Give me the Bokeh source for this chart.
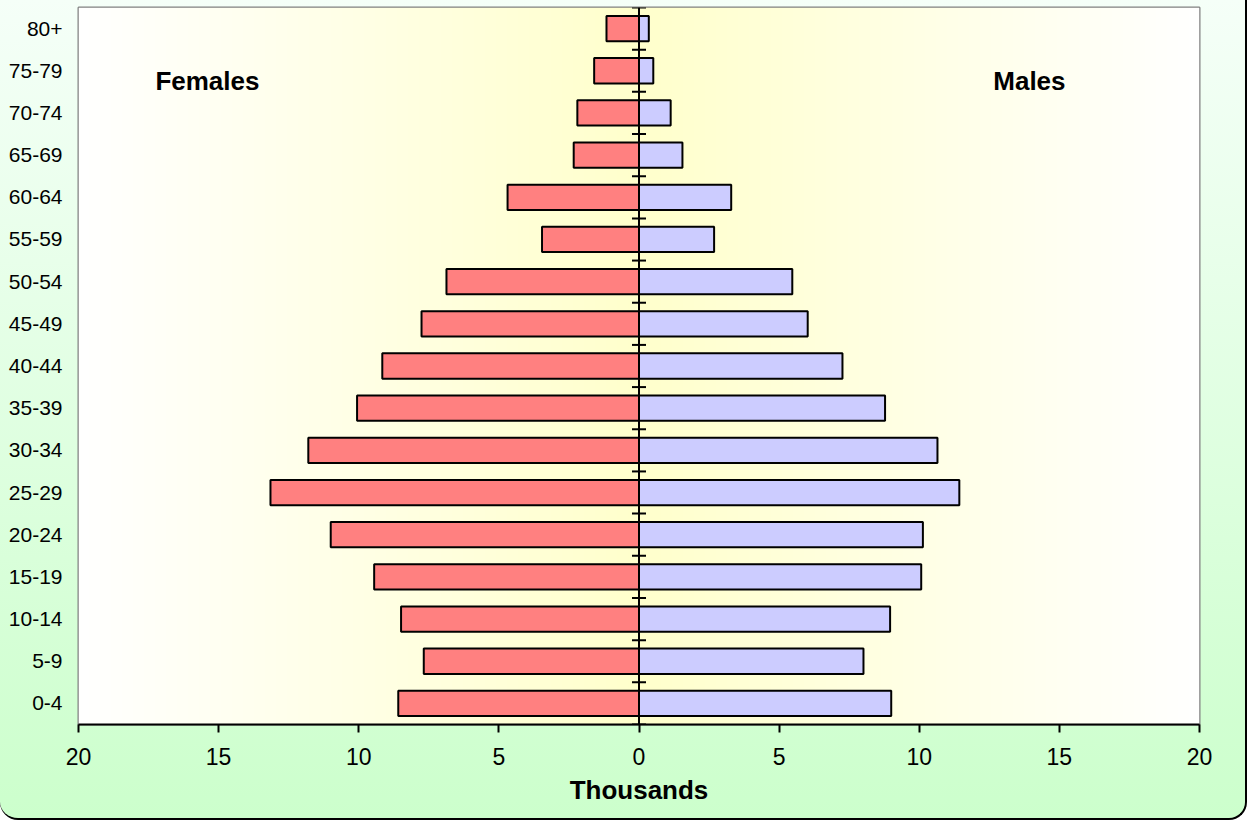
import numpy as np
from bokeh.plotting import figure
from bokeh.models import Range1d, FixedTicker, Span, Label, ColumnDataSource
from bokeh.embed import file_html
from bokeh.resources import INLINE

# ---- data (thousands) ----
age_groups = ["0-4", "5-9", "10-14", "15-19", "20-24", "25-29", "30-34", "35-39",
              "40-44", "45-49", "50-54", "55-59", "60-64", "65-69", "70-74", "75-79", "80+"]
females = [8.59, 7.68, 8.49, 9.45, 11.0, 13.15, 11.80, 10.06, 9.16, 7.76, 6.87,
           3.46, 4.69, 2.33, 2.2, 1.6, 1.16]
males = [9.0, 8.01, 8.96, 10.07, 10.13, 11.43, 10.65, 8.78, 7.26, 6.02, 5.47,
         2.68, 3.29, 1.55, 1.13, 0.51, 0.35]
x_ticks = [-20, -15, -10, -5, 0, 5, 10, 15, 20]

FONT = "Liberation Sans"
n = len(age_groups)
ypos = list(range(n))

p = figure(width=1247, height=820, output_backend="svg", toolbar_location=None,
           x_range=Range1d(-20, 20), y_range=Range1d(-0.5, n - 0.5),
           min_border_left=78, min_border_right=48, min_border_top=7,
           min_border_bottom=96)
p.border_fill_color = None
p.background_fill_color = None
p.outline_line_color = "#808080"
p.outline_line_width = 2
p.grid.visible = False
p.styles = {
    "background": "linear-gradient(to bottom, #F5FFF8 0%, #CCFFCC 100%)",
    "border-right": "2px solid black",
    "border-bottom": "2px solid black",
    "border-bottom-right-radius": "18px",
    "border-bottom-left-radius": "18px",
}

# plot-area horizontal gradient: white at edges, pale yellow in centre
N = 1121
t = 1 - np.abs(np.linspace(-1, 1, N))
img = np.zeros((1, N), dtype=np.uint32)
view = img.view(dtype=np.uint8).reshape((1, N, 4))
view[0, :, 0] = 255
view[0, :, 1] = 255
view[0, :, 2] = (255 - 51 * t).astype(np.uint8)
view[0, :, 3] = 255
p.image_rgba(image=[img], x=-20, y=-0.5, dw=40, dh=n, level="image")

src = ColumnDataSource(dict(y=ypos, f=[-v for v in females], m=males))
p.hbar(y="y", left="f", right=0, height=0.6, source=src,
       fill_color="#FF8080", line_color="black", line_width=2)
p.hbar(y="y", left=0, right="m", height=0.6, source=src,
       fill_color="#CCCCFF", line_color="black", line_width=2)

# central vertical axis with tick marks between categories
bounds = [i - 0.5 for i in range(n + 1)]
p.segment(x0=[-0.25] * len(bounds), x1=[0.25] * len(bounds), y0=bounds, y1=bounds,
          line_color="black", line_width=2)
p.add_layout(Span(location=0, dimension="height", line_color="black", line_width=2))

# x axis
xa = p.xaxis[0]
xa.ticker = FixedTicker(ticks=x_ticks)
xa.major_label_overrides = {t_: str(abs(t_)) for t_ in x_ticks}
xa.axis_line_color = "black"
xa.axis_line_width = 2
xa.major_tick_line_color = "black"
xa.major_tick_line_width = 2
xa.major_tick_in = 0
xa.major_tick_out = 8
xa.minor_tick_line_color = None
xa.major_label_text_font = FONT
xa.major_label_text_font_size = "23px"
xa.major_label_text_color = "black"
xa.major_label_standoff = 15
xa.axis_label = "Thousands"
xa.axis_label_text_font = FONT
xa.axis_label_text_font_size = "26px"
xa.axis_label_text_font_style = "bold"
xa.axis_label_text_color = "black"
xa.axis_label_standoff = 7

# y axis (category labels)
ya = p.yaxis[0]
ya.ticker = FixedTicker(ticks=ypos)
ya.major_label_overrides = {i: g for i, g in zip(ypos, age_groups)}
ya.axis_line_color = None
ya.major_tick_line_color = None
ya.minor_tick_line_color = None
ya.major_tick_in = 0
ya.major_tick_out = 0
ya.major_label_standoff = 16
ya.major_label_text_font = FONT
ya.major_label_text_font_size = "21px"
ya.major_label_text_color = "black"

for txt, xv in (("Females", -15.4), ("Males", 13.93)):
    p.add_layout(Label(x=xv, y=14.75, text=txt, text_font=FONT, text_font_size="26px",
                       text_font_style="bold", text_color="black",
                       text_align="center", text_baseline="middle"))

open("out.html", "w").write(file_html(p, INLINE))
